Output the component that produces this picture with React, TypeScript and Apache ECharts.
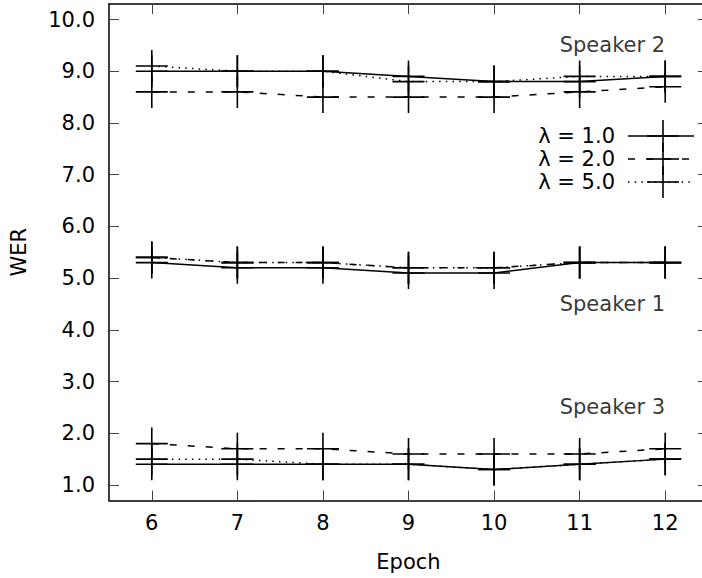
import React, { useEffect, useRef } from "react";
import * as echarts from "echarts";

const epochs = [6, 7, 8, 9, 10, 11, 12];
const xTicks = [6, 7, 8, 9, 10, 11, 12];
const yTicks = [1, 2, 3, 4, 5, 6, 7, 8, 9, 10];

const lambdaLabels = ["λ = 1.0", "λ = 2.0", "λ = 5.0"];

// Speaker 2
const spk2Lambda1 = [9.0, 9.0, 9.0, 8.9, 8.8, 8.8, 8.9];
const spk2Lambda2 = [8.6, 8.6, 8.5, 8.5, 8.5, 8.6, 8.7];
const spk2Lambda5 = [9.1, 9.0, 9.0, 8.8, 8.8, 8.9, 8.9];
// Speaker 1
const spk1Lambda1 = [5.3, 5.2, 5.2, 5.1, 5.1, 5.3, 5.3];
const spk1Lambda2 = [5.4, 5.3, 5.3, 5.2, 5.2, 5.3, 5.3];
const spk1Lambda5 = [5.4, 5.3, 5.3, 5.2, 5.2, 5.3, 5.3];
// Speaker 3
const spk3Lambda1 = [1.4, 1.4, 1.4, 1.4, 1.3, 1.4, 1.5];
const spk3Lambda2 = [1.8, 1.7, 1.7, 1.6, 1.6, 1.6, 1.7];
const spk3Lambda5 = [1.5, 1.5, 1.4, 1.4, 1.3, 1.4, 1.5];

const speakerNames = ["Speaker 2", "Speaker 1", "Speaker 3"];
const speakerLabelX = [12, 12, 12];
const speakerLabelY = [9.5, 4.5, 2.5];

const FONT = "DejaVu Sans";
const FS = 21;
const dashStyles: any[] = ["solid", [7, 11], [1.5, 5.2]];
const CROSS = "path://M16,0 L16,32 M0,16 L32,16";

export default function App() {
  const ref = useRef<HTMLDivElement>(null);
  useEffect(() => {
    if (!ref.current) return;
    const chart = echarts.init(ref.current, null, { renderer: "svg" });
    const groups = [
      [spk2Lambda1, spk2Lambda2, spk2Lambda5],
      [spk1Lambda1, spk1Lambda2, spk1Lambda5],
      [spk3Lambda1, spk3Lambda2, spk3Lambda5],
    ];
    const series: any[] = [];
    groups.forEach((g, gi) => {
      g.forEach((vals, li) => {
        series.push({
          type: "line",
          name: lambdaLabels[li] + " " + gi,
          data: epochs.map((e, i) => [e, vals[i]]),
          symbol: CROSS,
          symbolSize: 32,
          showSymbol: true,
          lineStyle: { color: "#000", width: 1.5, type: dashStyles[li] },
          itemStyle: { color: "#000", borderColor: "#000", borderWidth: 1.6 },
          emphasis: { disabled: true },
          clip: false,
        });
      });
    });
    series.push({
      type: "scatter",
      data: speakerNames.map((n, i) => ({ name: n, value: [speakerLabelX[i], speakerLabelY[i]] })),
      symbolSize: 0.1,
      itemStyle: { color: "rgba(0,0,0,0)" },
      label: {
        show: true,
        position: "left",
        distance: 0,
        formatter: "{b}",
        fontFamily: FONT,
        fontSize: FS,
        color: "#000",
      },
    });

    const legendEls: any[] = [];
    lambdaLabels.forEach((t, i) => {
      const y = 136 + 23 * i;
      legendEls.push({
        type: "text",
        x: 615,
        y,
        style: { text: t, font: `${FS}px "${FONT}"`, fill: "#000", align: "right", verticalAlign: "middle" },
      });
      legendEls.push({
        type: "line",
        shape: { x1: 628, y1: y, x2: 694, y2: y },
        style: {
          stroke: "#000",
          lineWidth: 1.5,
          lineDash: i === 0 ? null : dashStyles[i],
        },
      });
      legendEls.push({
        type: "line",
        shape: { x1: 647, y1: y, x2: 679, y2: y },
        style: { stroke: "#000", lineWidth: 1.6 },
      });
      legendEls.push({
        type: "line",
        shape: { x1: 663, y1: y - 16, x2: 663, y2: y + 16 },
        style: { stroke: "#000", lineWidth: 1.6 },
      });
    });

    const axisLine = { show: true, onZero: false, lineStyle: { color: "#000", width: 1.5 } };
    const tickStyle = { color: "#444", width: 1 };
    const labelStyle = { fontFamily: FONT, fontSize: FS, color: "#000" };

    chart.setOption({
      animation: false,
      grid: { left: 109, top: 4, right: -6, bottom: 77.5, containLabel: false, outerBoundsMode: "none" },
      xAxis: [
        {
          type: "value",
          min: 5.5,
          max: 12.5,
          position: "bottom",
          axisLine,
          axisTick: { show: true, inside: true, length: 10, customValues: xTicks, lineStyle: tickStyle },
          axisLabel: { ...labelStyle, margin: 12, customValues: xTicks, formatter: (v: number) => String(v) },
          splitLine: { show: false },
          name: "Epoch",
          nameLocation: "middle",
          nameGap: 51,
          nameTextStyle: labelStyle,
        },
        {
          type: "value",
          min: 5.5,
          max: 12.5,
          position: "top",
          axisLine,
          axisTick: { show: true, inside: true, length: 10, customValues: xTicks, lineStyle: tickStyle },
          axisLabel: { show: false },
          splitLine: { show: false },
        },
      ],
      yAxis: [
        {
          type: "value",
          min: 0.7,
          max: 10.3,
          position: "left",
          axisLine,
          axisTick: { show: true, inside: true, length: 10, customValues: yTicks, lineStyle: tickStyle },
          axisLabel: { ...labelStyle, margin: 14, customValues: yTicks, formatter: (v: number) => v.toFixed(1) },
          splitLine: { show: false },
          name: "WER",
          nameLocation: "middle",
          nameGap: 80,
          nameRotate: 90,
          nameTextStyle: labelStyle,
        },
        {
          type: "value",
          min: 0.7,
          max: 10.3,
          position: "right",
          axisLine,
          axisTick: { show: true, inside: true, length: 10, customValues: yTicks, lineStyle: tickStyle },
          axisLabel: { show: false },
          splitLine: { show: false },
        },
      ],
      series,
      graphic: legendEls,
    });
    return () => chart.dispose();
  }, []);
  return (
    <div
      ref={ref}
      style={{ position: "absolute", left: 0, top: 0, width: 702, height: 578, background: "#fff" }}
    />
  );
}
